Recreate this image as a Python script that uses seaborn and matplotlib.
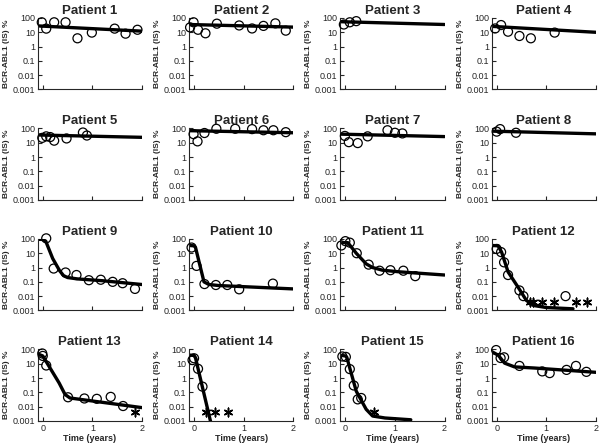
import matplotlib
matplotlib.use('Agg')
import matplotlib.pyplot as plt
import seaborn as sns

# observed BCR-ABL1 values (open circles)
obs_t = [
    [-0.02, 0.07, 0.23, 0.46, 0.70, 0.99, 1.45, 1.67, 1.91],
    [-0.08, -0.01, 0.08, 0.23, 0.46, 0.91, 1.17, 1.40, 1.64, 1.85],
    [-0.03, 0.09, 0.22],
    [-0.03, 0.09, 0.23, 0.46, 0.69, 1.17],
    [-0.01, 0.07, 0.15, 0.23, 0.48, 0.81, 0.89],
    [-0.01, 0.07, 0.21, 0.45, 0.83, 1.17, 1.40, 1.60, 1.85],
    [-0.01, 0.07, 0.25, 0.45, 0.85, 1.00, 1.15],
    [0.00, 0.07, 0.39],
    [0.07, 0.22, 0.46, 0.68, 0.93, 1.17, 1.41, 1.61, 1.86],
    [-0.05, 0.05, 0.21, 0.44, 0.67, 0.91, 1.59],
    [-0.08, 0.00, 0.09, 0.23, 0.47, 0.69, 0.91, 1.17, 1.41],
    [0.00, 0.09, 0.15, 0.23, 0.46, 0.54, 1.39],
    [-0.01, 0.00, 0.07, 0.51, 0.84, 1.09, 1.37, 1.62],
    [-0.03, 0.00, 0.08, 0.17],
    [-0.06, 0.01, 0.09, 0.17, 0.25, 0.32],
    [-0.01, 0.08, 0.15, 0.46, 0.92, 1.07, 1.41, 1.60, 1.81],
]
obs_v = [
    [50, 18, 50, 50, 3.8, 9.5, 18, 8, 15],
    [22, 50, 15, 8.5, 40, 30, 18.5, 28, 42, 13],
    [35, 50, 60],
    [18.5, 32, 11, 5.5, 3.8, 9.5],
    [22, 28, 25, 14, 20, 52, 32],
    [40, 12.5, 48, 95, 95, 90, 75, 75, 55],
    [30, 11, 9.5, 28, 75, 50, 45],
    [60, 90, 50],
    [110, 0.85, 0.45, 0.3, 0.13, 0.14, 0.1, 0.08, 0.032],
    [25, 1.3, 0.07, 0.06, 0.06, 0.03, 0.075],
    [35, 70, 55, 10, 1.6, 0.6, 0.65, 0.6, 0.25],
    [20, 12, 2.3, 0.3, 0.025, 0.01, 0.01],
    [52, 35, 7.5, 0.045, 0.037, 0.035, 0.048, 0.011],
    [18, 24, 4.4, 0.25],
    [32, 30, 4.2, 0.3, 0.032, 0.04],
    [90, 25, 28, 7, 2.9, 2.2, 3.7, 7, 2.7],
]

# undetectable measurements (asterisks)
ast_t = [[], [], [], [], [], [], [], [], [], [], [],
         [0.67, 0.74, 0.92, 1.15, 1.61, 1.82],
         [1.87],
         [0.25, 0.43, 0.68],
         [0.57],
         []]
ast_level = 0.004

# model fit curves
curve_t = [
    [-0.1, 2.0], [-0.1, 2.0], [-0.1, 2.0], [-0.1, 2.0],
    [-0.1, 2.0], [-0.1, 2.0], [-0.1, 2.0], [-0.1, 2.0],
    [-0.1, 0.0, 0.06, 0.2, 0.34, 0.42, 0.5, 0.7, 1.2, 2.0],
    [-0.1, 0.0, 0.03, 0.2, 0.3, 0.5, 2.0],
    [-0.05, 0.05, 0.22, 0.42, 0.55, 0.75, 1.09, 2.0],
    [-0.1, 0.03, 0.1, 0.23, 0.46, 0.6, 0.75, 1.0, 1.54],
    [-0.1, 0.0, 0.13, 0.33, 0.45, 0.55, 2.0],
    [-0.1, 0.0, 0.03, 0.33, 0.36],
    [-0.13, 0.0, 0.03, 0.09, 0.22, 0.42, 0.55, 0.8, 1.32],
    [-0.1, 0.03, 0.16, 0.36, 0.76, 2.0],
]
curve_v = [
    [28, 12], [35, 23], [55, 35], [26, 10],
    [35, 24], [70, 50], [40, 27], [65, 42],
    [95, 92, 70, 4.3, 0.6, 0.27, 0.2, 0.16, 0.12, 0.065],
    [35, 33, 25, 0.1, 0.065, 0.055, 0.032],
    [55, 55, 10, 1.8, 1.0, 0.65, 0.5, 0.3],
    [35, 33, 12, 0.5, 0.03, 0.005, 0.0022, 0.0016, 0.0013],
    [48, 35, 6.3, 0.45, 0.07, 0.04, 0.0085],
    [40, 38, 25, 0.001, 0.0005],
    [40, 35, 28, 4.9, 0.12, 0.0065, 0.0022, 0.0016, 0.0012],
    [70, 40, 11, 6, 5, 2.5],
]

y_ticks = [0.001, 0.01, 0.1, 1, 10, 100]
y_labels = ['0.001', '0.01', '0.1', '1', '10', '100']
x_ticks = [0, 1, 2]

sns.set_style('ticks')
plt.rcParams['font.family'] = ['Liberation Sans', 'DejaVu Sans']

fig, axes = plt.subplots(
    4, 4, figsize=(6, 4.44), dpi=100,
    gridspec_kw=dict(left=0.063, right=0.993, top=0.9595, bottom=0.052,
                     wspace=0.453, hspace=0.545)
)

for i, ax in enumerate(axes.flat):
    sns.lineplot(x=curve_t[i], y=curve_v[i], ax=ax, color='black',
                 linewidth=2.4, sort=False, estimator=None)
    sns.scatterplot(x=obs_t[i], y=obs_v[i], ax=ax, marker='o', s=42,
                    facecolor='none', edgecolor='black', linewidth=0.9,
                    clip_on=False, zorder=3)
    if ast_t[i]:
        sns.scatterplot(x=ast_t[i], y=[ast_level] * len(ast_t[i]), ax=ax,
                        marker=(6, 2, 0), s=38, color='black', linewidth=1.1,
                        clip_on=False, zorder=3)

    ax.set_yscale('log')
    ax.set_ylim(0.001, 100)
    ax.set_xlim(-0.1, 2.0)
    ax.set_yticks(y_ticks)
    ax.set_yticklabels(y_labels)
    ax.minorticks_off()
    ax.set_xticks(x_ticks)
    ax.tick_params(direction='in', length=3, width=0.8, labelsize=6.5, pad=2)
    for sp in ax.spines.values():
        sp.set_linewidth(0.8)
    sns.despine(ax=ax)

    ax.set_title(f'Patient {i + 1}', fontsize=9.5, fontweight='bold', pad=3)
    ax.set_ylabel('BCR-ABL1 (IS) %', fontsize=6, fontweight='bold', labelpad=2)
    if i >= 12:
        ax.set_xticklabels([str(t) for t in x_ticks])
        ax.set_xlabel('Time (years)', fontsize=6.5, fontweight='bold', labelpad=1)
    else:
        ax.set_xticklabels([])
        ax.set_xlabel('')

fig.savefig('out.png', dpi=100)
